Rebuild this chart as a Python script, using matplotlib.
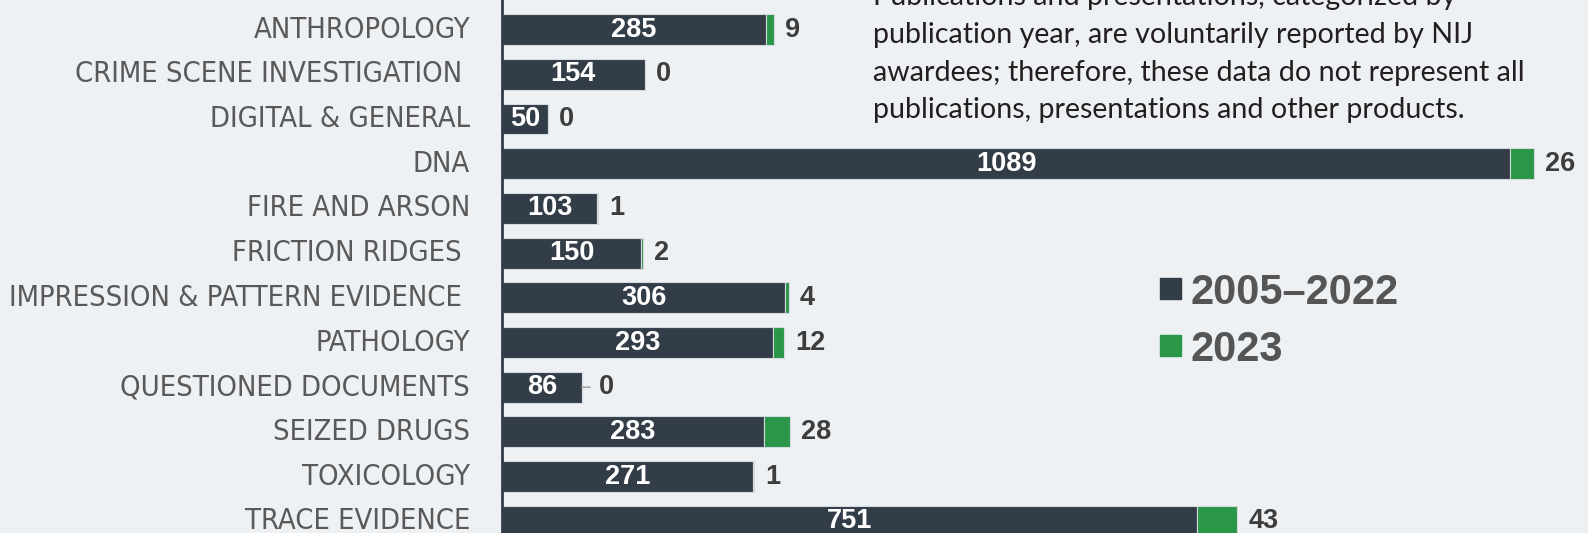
import matplotlib
matplotlib.use("Agg")
import matplotlib.pyplot as plt
from matplotlib import font_manager
from matplotlib.patches import Rectangle

categories = ["ANTHROPOLOGY", "CRIME SCENE INVESTIGATION ", "DIGITAL & GENERAL", "DNA",
              "FIRE AND ARSON", "FRICTION RIDGES ", "IMPRESSION & PATTERN EVIDENCE ",
              "PATHOLOGY", "QUESTIONED DOCUMENTS", "SEIZED DRUGS", "TOXICOLOGY",
              "TRACE EVIDENCE"]
pubs_2005_2022 = [285, 154, 50, 1089, 103, 150, 306, 293, 86, 283, 271, 751]
pubs_2023 = [9, 0, 0, 26, 1, 2, 4, 12, 0, 28, 1, 43]
series_names = ["2005\u20132022", "2023"]
note_lines = ["Publications and presentations, categorized by",
              "publication year, are voluntarily reported by NIJ",
              "awardees; therefore, these data do not represent all",
              "publications, presentations and other products."]

BG = "#eef1f4"
DARK = "#333d47"
GREEN = "#2a9647"
W, H = 1588, 533


def have(fam):
    try:
        font_manager.findfont(font_manager.FontProperties(family=fam), fallback_to_default=False)
        return True
    except Exception:
        return False


# narrowest sans we can find for the category labels
label_props = dict(family="Liberation Sans")
for fe in font_manager.fontManager.ttflist:
    n = (fe.name + " " + fe.fname).lower()
    if ("condensed" in n or "narrow" in n) and "bold" not in n and "italic" not in n \
            and "oblique" not in n and "light" not in n and "mono" not in n:
        label_props = dict(fname=fe.fname)
        break
if "fname" in label_props:
    label_fp = font_manager.FontProperties(fname=label_props["fname"])
else:
    label_fp = font_manager.FontProperties(family="Liberation Sans")

note_font = "Lato" if have("Lato") else "DejaVu Sans"

fig = plt.figure(figsize=(W / 100, H / 100), dpi=100, facecolor=BG)
renderer = fig.canvas.get_renderer()


def fit_size(text, target_px, **kw):
    t = fig.text(0, 0, text, **kw)
    t.set_fontsize(20)
    w = t.get_window_extent(renderer).width
    t.remove()
    return 20 * target_px / w


x0 = 502
px_per_unit = 0.926
row0, row_step = 29.6, 44.7

ax = fig.add_axes([x0 / W, 0, 1 - x0 / W, 1])
ax.set_facecolor(BG)
ax.set_xlim(0, (W - x0) / px_per_unit)
ax.set_ylim((H - row0) / row_step, -row0 / row_step)

ypos = list(range(len(categories)))
ax.barh(ypos, pubs_2005_2022, height=0.69, color=DARK, edgecolor="#d5dae0", linewidth=0.8)
ax.barh(ypos, pubs_2023, left=pubs_2005_2022, height=0.69, color=GREEN,
        edgecolor="#d5dae0", linewidth=0.8)

for i, (a, b) in enumerate(zip(pubs_2005_2022, pubs_2023)):
    ax.text(a / 2, i, str(a), ha="center", va="center", color="white",
            family="Liberation Sans", weight="bold", fontsize=19.5)
    lead = categories[i] == "QUESTIONED DOCUMENTS"
    ax.annotate(str(b), xy=(a + b, i), xytext=(17 if lead else 11, 0),
                textcoords="offset pixels", ha="left", va="center",
                color="#3d3d3d", family="Liberation Sans", weight="bold", fontsize=19.5,
                arrowprops=dict(arrowstyle="-", color="#9a9a9a", lw=1,
                                shrinkA=4, shrinkB=0) if lead else None)

ax.set_yticks(ypos)
label_size = fit_size("IMPRESSION & PATTERN EVIDENCE", 456, fontproperties=label_fp)
label_size = min(label_size, 23)
ax.set_yticklabels(categories, fontproperties=label_fp, color="#595959")
for t in ax.get_yticklabels():
    t.set_fontsize(label_size)
    t.set_va("center")
ax.tick_params(axis="y", length=0, pad=32 * 72 / 100)
ax.set_xticks([])
for s in ["top", "right", "bottom"]:
    ax.spines[s].set_visible(False)
ax.spines["left"].set_color(DARK)
ax.spines["left"].set_linewidth(2)

# legend
for k, (name, col) in enumerate(zip(series_names, [DARK, GREEN])):
    cy = 288.5 + k * 57
    fig.patches.append(Rectangle((1160 / W, 1 - (cy + 10.5) / H), 21 / W, 21 / H,
                                 transform=fig.transFigure, color=col))
    fig.text(1190 / W, 1 - cy / H, name, ha="left", va="center_baseline",
             family="Liberation Sans", weight="bold", fontsize=30, color="#555555")

# note
note_size = fit_size(note_lines[2], 654, family=note_font)
for k, line in enumerate(note_lines):
    fig.text(873 / W, 1 - (5 + k * 37.8) / H, line, ha="left", va="baseline",
             family=note_font, fontsize=note_size, color="#231f20")

fig.savefig("out.png", dpi=100, facecolor=BG)
